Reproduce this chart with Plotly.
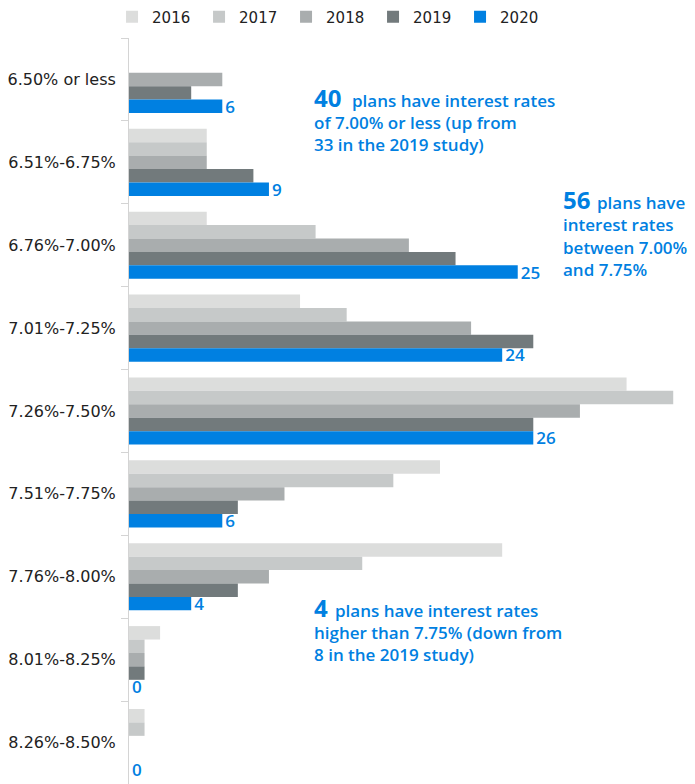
import plotly.graph_objects as go

categories = ["6.50% or less", "6.51%-6.75%", "6.76%-7.00%", "7.01%-7.25%", "7.26%-7.50%",
              "7.51%-7.75%", "7.76%-8.00%", "8.01%-8.25%", "8.26%-8.50%"]
years = ["2016", "2017", "2018", "2019", "2020"]
v2016 = [0, 5, 5, 11, 32, 20, 24, 2, 1]
v2017 = [0, 5, 12, 14, 35, 17, 15, 1, 1]
v2018 = [6, 5, 18, 22, 29, 10, 9, 1, 0]
v2019 = [4, 8, 21, 26, 26, 7, 7, 1, 0]
v2020 = [6, 9, 25, 24, 26, 6, 4, 0, 0]
series = [v2016, v2017, v2018, v2019, v2020]
colors = ["#dcdddc", "#c6c9c9", "#a9adae", "#727a7c", "#0080e1"]
BLUE = "#0080e1"
LABEL_FONT = "DejaVu Sans"
ANN_FONT = "Open Sans"

# callout texts: (big number, first line rest, following lines)
callout1 = ("40", "plans have interest rates", ["of 7.00% or less (up from", "33 in the 2019 study)"])
callout2 = ("56", "plans have", ["interest rates", "between 7.00%", "and 7.75%"])
callout3 = ("4", "plans have interest rates", ["higher than 7.75% (down from", "8 in the 2019 study)"])

fig = go.Figure()
for yr, vals, col in zip(years, series, colors):
    is_last = yr == "2020"
    fig.add_trace(go.Bar(
        y=categories, x=vals, name=yr, orientation="h",
        marker=dict(color=col, line=dict(width=0)),
        text=[str(v) for v in vals] if is_last else None,
        textposition="outside" if is_last else "none",
        constraintext="none",
        textfont=dict(color=BLUE, size=17, family=ANN_FONT, weight=600),
        cliponaxis=False,
        hoverinfo="skip",
    ))

# the page body has an 8px margin; compensate so the plot area sits at x 129..695, y 38..784
PL, PT, PW, PH = 129, 38, 566, 746
fig.update_layout(
    width=695, height=784,
    margin=dict(l=121, r=8, t=30, b=8, autoexpand=False),
    paper_bgcolor="white", plot_bgcolor="white",
    barmode="group", bargap=0.19, bargroupgap=0,
    font=dict(family=LABEL_FONT, color="#222222", size=16),
    legend=dict(orientation="h", xref="container", yref="container",
                x=0.1497, y=0.9885, xanchor="left", yanchor="middle",
                font=dict(size=15, color="#222222", family=LABEL_FONT),
                itemwidth=30, traceorder="normal",
                entrywidth=42, entrywidthmode="pixels"),
    xaxis=dict(range=[0, 36.4], showgrid=False, zeroline=False, showticklabels=False,
               ticks="", showline=False, fixedrange=True),
    yaxis=dict(type="category", range=[8.5, -0.5], showgrid=False, zeroline=False,
               showline=True, linecolor="#d4d4d4", linewidth=1,
               ticks="outside", tickson="boundaries", ticklen=7, tickcolor="#d4d4d4",
               ticklabelstandoff=9, tickfont=dict(size=16, color="#222222", family=LABEL_FONT)),
)


def add_text(text, px, baseline, size, weight):
    center = baseline - (0.39 * size)
    fig.add_annotation(xref="paper", yref="paper",
                       x=(px - 2 - PL) / PW, y=(PT + PH - center) / PH,
                       xanchor="left", yanchor="middle", align="left", showarrow=False,
                       text=text, font=dict(family=ANN_FONT, color=BLUE, size=size, weight=weight))


def add_callout(callout, x_left, x_rest, baselines):
    big, first, rest = callout
    add_text(big, x_left, baselines[0], 24, 700)
    add_text(first, x_rest, baselines[0], 17, 600)
    for line, b in zip(rest, baselines[1:]):
        add_text(line, x_left, b, 17, 600)


add_callout(callout1, 314, 352, [107, 129.5, 151.5])
add_callout(callout2, 563, 597, [209, 231.5, 254, 276])
add_callout(callout3, 314, 335, [617, 639, 661])

fig.write_html("out.html")
